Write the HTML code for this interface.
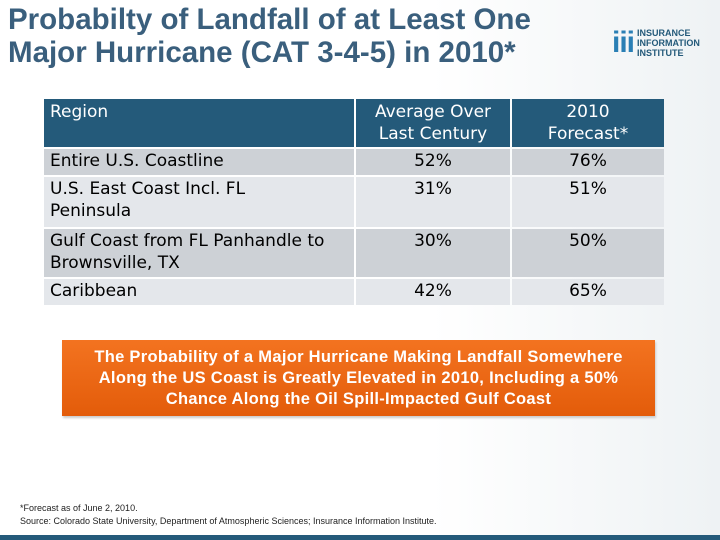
<!DOCTYPE html>
<html><head><meta charset="utf-8"><style>
body{margin:0;width:720px;height:540px;position:relative;overflow:hidden;background:linear-gradient(90deg,#fff 0%,#fff 60%,#eef2f4 100%);font-family:"Liberation Sans",sans-serif}
.t{position:absolute;left:8px;top:3px;font-size:29.5px;font-weight:bold;color:#3a5f7d;line-height:33px}
table{position:absolute;left:42px;top:97px;border-collapse:separate;border-spacing:2px;font-family:"DejaVu Sans",sans-serif;font-size:17px}
td,th{padding:0 6px;vertical-align:top;line-height:22px}
th{background:#245a7a;color:#fff;font-weight:normal;height:46px;text-align:center;padding-top:2px}
th.r{text-align:left}
tr.d td{background:#cdd1d6}tr.l td{background:#e4e7eb}
td.c{text-align:center}
td{padding-top:1px}
.o{position:absolute;left:62px;top:340px;width:593px;height:76px;background:linear-gradient(#f37320,#e35c0a);color:#fff;font-weight:bold;font-size:16.5px;text-align:center;line-height:21px;box-sizing:border-box;padding-top:7px;box-shadow:1px 2px 2px #ccc;letter-spacing:0.3px}
.f{position:absolute;left:20px;font-size:9px;color:#222}
.bar{position:absolute;left:0;top:535px;width:720px;height:5px;background:#245a7a}
.logo{position:absolute;left:612px;top:26px;display:flex;align-items:center}
.logo .m{font:bold 30px "Liberation Sans";color:#2a7fb5;letter-spacing:-1px;margin-right:3px}
.logo .w{font:bold 9px/10px "Liberation Sans";color:#245a7a}
</style></head><body>
<div class="t">Probabilty of Landfall of at Least One<br>Major Hurricane (CAT 3-4-5) in 2010*</div>
<div class="logo"><span class="m">iii</span><span class="w">INSURANCE<br>INFORMATION<br>INSTITUTE</span></div>
<table>
<tr><th class="r" style="width:298px">Region</th><th style="width:142px">Average Over<br>Last Century</th><th style="width:140px">2010<br>Forecast*</th></tr>
<tr class="d" style="height:26px"><td>Entire U.S. Coastline</td><td class="c">52%</td><td class="c">76%</td></tr>
<tr class="l" style="height:50px"><td>U.S. East Coast Incl. FL<br>Peninsula</td><td class="c">31%</td><td class="c">51%</td></tr>
<tr class="d" style="height:48px"><td>Gulf Coast from FL Panhandle to<br>Brownsville, TX</td><td class="c">30%</td><td class="c">50%</td></tr>
<tr class="l" style="height:26px"><td>Caribbean</td><td class="c">42%</td><td class="c">65%</td></tr>
</table>
<div class="o">The Probability of a Major Hurricane Making Landfall Somewhere<br>Along the US Coast is Greatly Elevated in 2010, Including a 50%<br>Chance Along the Oil Spill-Impacted Gulf Coast</div>
<div class="f" style="top:503px">*Forecast as of June 2, 2010.</div>
<div class="f" style="top:516px">Source: Colorado State University, Department of Atmospheric Sciences; Insurance Information Institute.</div>
<div class="bar"></div>
</body></html>
